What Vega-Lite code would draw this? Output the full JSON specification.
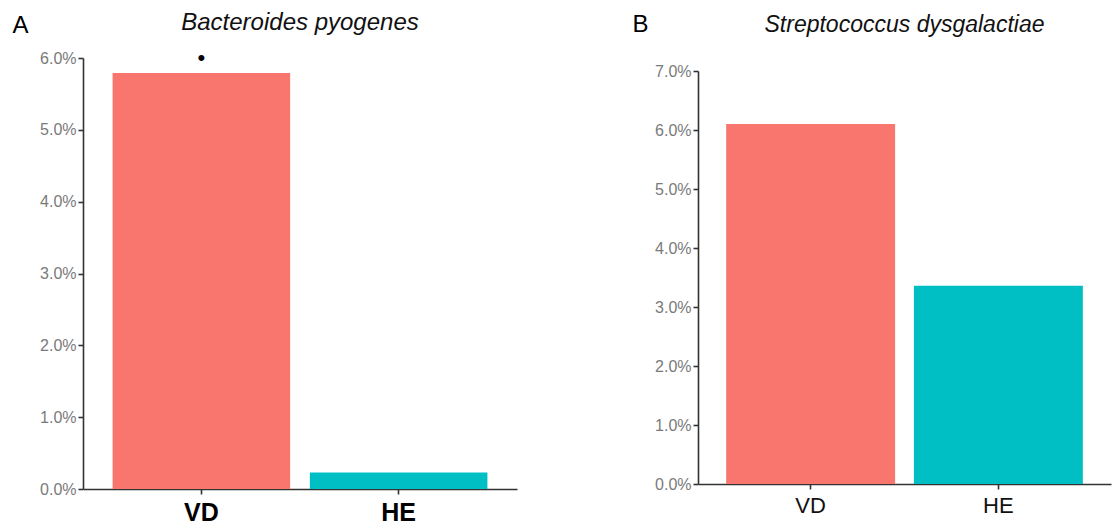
{
  "$schema": "https://vega.github.io/schema/vega-lite/v6.json",
  "padding": {"top": 11, "left": 12, "right": 2, "bottom": 0},
  "background": "white",
  "spacing": 115,
  "config": {
    "view": {"stroke": null},
    "font": "Liberation Sans",
    "axis": {
      "domainColor": "#333333",
      "domainWidth": 1.6,
      "tickColor": "#333333",
      "tickWidth": 1.6,
      "tickSize": 5,
      "grid": false,
      "labelColor": "#7a7a7a",
      "labelFontSize": 16,
      "labelFont": "Liberation Sans"
    }
  },
  "datasets": {
    "a": [
      {"group": "VD", "pct": 0.0579, "sig": "•"},
      {"group": "HE", "pct": 0.0023, "sig": ""}
    ],
    "b": [
      {"group": "VD", "pct": 0.0610},
      {"group": "HE", "pct": 0.0336}
    ]
  },
  "hconcat": [
    {
      "width": 434,
      "height": 431,
      "data": {"name": "a"},
      "title": {"text": "Bacteroides pyogenes", "fontStyle": "italic", "fontWeight": "normal", "fontSize": 24, "font": "Liberation Sans", "color": "#111111", "offset": 0, "dy": 22},
      "encoding": {
        "x": {"field": "group", "type": "nominal", "sort": ["VD", "HE"],
              "scale": {"paddingInner": 0.1, "paddingOuter": 0.15},
              "axis": {"title": null, "labelAngle": 0, "labelFontSize": 25, "labelFontWeight": "bold", "labelColor": "#000000", "labelPadding": 6, "labelFont": "Liberation Sans"}},
        "y": {"field": "pct", "type": "quantitative",
              "scale": {"domain": [0, 0.06], "nice": false},
              "axis": {"format": ".1%", "values": [0, 0.01, 0.02, 0.03, 0.04, 0.05, 0.06],
                       "title": "A", "titleAngle": 0, "titleAlign": "left", "titleBaseline": "top",
                       "titleX": -71, "titleY": -45, "titleFontSize": 24, "titleFontWeight": "normal", "titleColor": "#000000", "titleFont": "Liberation Sans"}}
      },
      "layer": [
        {"mark": {"type": "bar"},
         "encoding": {"color": {"field": "group", "type": "nominal", "scale": {"domain": ["VD", "HE"], "range": ["#F8766D", "#00BFC4"]}, "legend": null}}},
        {"mark": {"type": "text", "dy": -15, "fontSize": 22, "color": "#000000", "baseline": "middle"},
         "encoding": {"text": {"field": "sig"}}}
      ]
    },
    {
      "width": 413,
      "height": 426,
      "data": {"name": "b"},
      "title": {"text": "Streptococcus dysgalactiae", "fontStyle": "italic", "fontWeight": "normal", "fontSize": 23, "font": "Liberation Sans", "color": "#111111", "offset": 0, "dy": 25},
      "mark": {"type": "bar"},
      "encoding": {
        "x": {"field": "group", "type": "nominal", "sort": ["VD", "HE"],
              "scale": {"paddingInner": 0.1, "paddingOuter": 0.15},
              "axis": {"title": null, "labelAngle": 0, "labelFontSize": 22, "labelFontWeight": "normal", "labelColor": "#111111", "labelPadding": 6, "labelFont": "Liberation Sans"}},
        "y": {"field": "pct", "type": "quantitative",
              "scale": {"domain": [0, 0.07], "nice": false, "range": [426, 13]},
              "axis": {"format": ".1%", "values": [0, 0.01, 0.02, 0.03, 0.04, 0.05, 0.06, 0.07],
                       "title": "B", "titleAngle": 0, "titleAlign": "left", "titleBaseline": "top",
                       "titleX": -66, "titleY": -46, "titleFontSize": 24, "titleFontWeight": "normal", "titleColor": "#000000", "titleFont": "Liberation Sans"}},
        "color": {"field": "group", "type": "nominal", "scale": {"domain": ["VD", "HE"], "range": ["#F8766D", "#00BFC4"]}, "legend": null}
      }
    }
  ]
}
